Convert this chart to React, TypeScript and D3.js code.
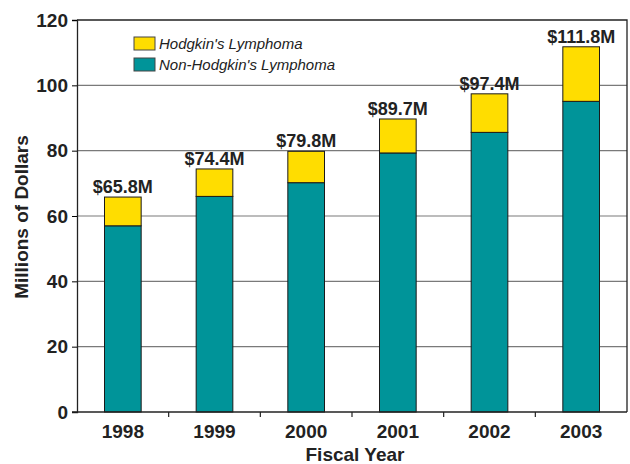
import React, { useRef, useEffect } from 'react';
import * as d3 from 'd3';

const years = ['1998', '1999', '2000', '2001', '2002', '2003'];
const nonHodgkin = [57.0, 66.0, 70.2, 79.3, 85.6, 95.1];
const totals = [65.8, 74.4, 79.8, 89.7, 97.4, 111.8];
const totalLabels = ['$65.8M', '$74.4M', '$79.8M', '$89.7M', '$97.4M', '$111.8M'];
const yTicks = [0, 20, 40, 60, 80, 100, 120];

const YELLOW = '#FFDD00';
const TEAL = '#009499';
const FONT = '"Liberation Sans", Arial, sans-serif';

const App: React.FC = () => {
  const ref = useRef<SVGSVGElement>(null);

  useEffect(() => {
    const svg = d3.select(ref.current!);
    svg.selectAll('*').remove();
    const left = 77, right = 627, top = 20, bottom = 412;

    const x = d3.scaleBand().domain(years).range([left, right]).paddingInner(0.6).paddingOuter(0.3);
    const xb = d3.scaleBand().domain(years).range([left, right]);
    const y = d3.scaleLinear().domain([0, 120]).range([bottom, top]);

    // gridlines
    svg.append('g').selectAll('line')
      .data(yTicks.filter(t => t > 0 && t < 120))
      .enter().append('line')
      .attr('x1', left).attr('x2', right)
      .attr('y1', d => y(d)).attr('y2', d => y(d))
      .attr('stroke', '#7a7a7a').attr('stroke-width', 1.2);

    // frame top / right
    svg.append('path')
      .attr('d', `M${left},${y(120)}H${right}V${bottom}`)
      .attr('fill', 'none').attr('stroke', '#222').attr('stroke-width', 1.3);

    // bars
    const g = svg.append('g');
    years.forEach((yr, i) => {
      const bx = x(yr)!;
      g.append('rect')
        .attr('x', bx).attr('width', x.bandwidth())
        .attr('y', y(nonHodgkin[i])).attr('height', y(0) - y(nonHodgkin[i]))
        .attr('fill', TEAL).attr('stroke', '#1a1a1a').attr('stroke-width', 1);
      g.append('rect')
        .attr('x', bx).attr('width', x.bandwidth())
        .attr('y', y(totals[i])).attr('height', y(nonHodgkin[i]) - y(totals[i]))
        .attr('fill', YELLOW).attr('stroke', '#1a1a1a').attr('stroke-width', 1);
      g.append('text')
        .attr('x', bx + x.bandwidth() / 2).attr('y', y(totals[i]) - 4)
        .attr('text-anchor', 'middle')
        .attr('font-family', FONT).attr('font-weight', 'bold').attr('font-size', 18)
        .attr('fill', '#222')
        .text(totalLabels[i]);
    });

    // y axis
    const yAxis = d3.axisLeft(y).tickValues(yTicks).tickSize(5).tickPadding(4);
    const ya = svg.append('g').attr('transform', `translate(${left},0)`).call(yAxis);
    ya.select('.domain').attr('stroke', '#222').attr('stroke-width', 1.3);
    ya.selectAll('text').attr('font-family', FONT).attr('font-weight', 'bold')
      .attr('font-size', 19).attr('fill', '#222');

    // x axis
    svg.append('line').attr('x1', left - 5).attr('x2', right).attr('y1', bottom).attr('y2', bottom)
      .attr('stroke', '#222').attr('stroke-width', 1.3);
    svg.append('g').selectAll('line')
      .data(years.slice(1))
      .enter().append('line')
      .attr('x1', d => xb(d)!).attr('x2', d => xb(d)!)
      .attr('y1', bottom).attr('y2', bottom + 5)
      .attr('stroke', '#222').attr('stroke-width', 1.2);
    svg.append('g').selectAll('text')
      .data(years)
      .enter().append('text')
      .attr('x', d => x(d)! + x.bandwidth() / 2).attr('y', 438)
      .attr('text-anchor', 'middle')
      .attr('font-family', FONT).attr('font-weight', 'bold').attr('font-size', 19)
      .attr('fill', '#222')
      .text(d => d);

    svg.append('text')
      .attr('x', 355).attr('y', 461)
      .attr('text-anchor', 'middle')
      .attr('font-family', FONT).attr('font-weight', 'bold').attr('font-size', 19)
      .attr('fill', '#222').text('Fiscal Year');

    svg.append('text')
      .attr('transform', `translate(28,${(top + bottom) / 2 + 1}) rotate(-90)`)
      .attr('text-anchor', 'middle')
      .attr('font-family', FONT).attr('font-weight', 'bold').attr('font-size', 19)
      .attr('fill', '#222').text('Millions of Dollars');

    // legend
    const legend = [
      { label: "Hodgkin's Lymphoma", color: YELLOW },
      { label: "Non-Hodgkin's Lymphoma", color: TEAL },
    ];
    legend.forEach((l, i) => {
      const ly = 37 + i * 21;
      svg.append('rect').attr('x', 134).attr('y', ly).attr('width', 21).attr('height', 13)
        .attr('fill', l.color).attr('stroke', '#444').attr('stroke-width', 1);
      svg.append('text').attr('x', 159).attr('y', ly + 12)
        .attr('font-family', FONT).attr('font-style', 'italic').attr('font-size', 15)
        .attr('fill', '#222').text(l.label);
    });
  }, []);

  return (
    <div style={{ position: 'absolute', left: 0, top: 0 }}>
      <svg ref={ref} width={630} height={464} style={{ display: 'block', background: '#fff' }}></svg>
    </div>
  );
};

export default App;
